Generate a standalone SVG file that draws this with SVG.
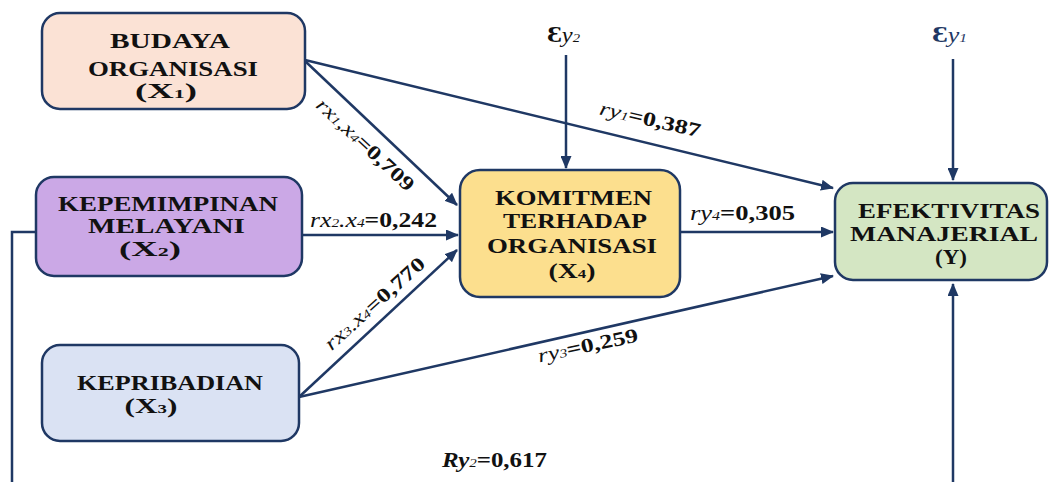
<svg xmlns="http://www.w3.org/2000/svg" width="1049" height="482" viewBox="0 0 1049 482">
<style>
.box{stroke:#1F3864;stroke-width:2.5}
.bt{font-family:"Liberation Serif","Times New Roman",serif;font-weight:bold;font-size:20px;fill:#111;text-anchor:middle}
.sub{font-size:12px}
.ln{stroke:#1F3864;stroke-width:2.5;fill:none}
.lbl{font-family:"Liberation Serif","Times New Roman",serif;font-size:20px;fill:#111;text-anchor:middle}
.it{font-style:italic;font-weight:normal}
.b{font-weight:bold}
.sm{font-size:12px}
</style>
<defs>
<marker id="ah" markerUnits="userSpaceOnUse" markerWidth="13" markerHeight="11" refX="12" refY="5.5" orient="auto">
<path d="M0,0 L13,5.5 L0,11 z" fill="#1F3864"/>
</marker>
</defs>
<rect width="1049" height="482" fill="#fff"/>
<g id="connectors">
<line class="ln" x1="305" y1="61" x2="457" y2="205" marker-end="url(#ah)"/>
<line class="ln" x1="305" y1="60" x2="833" y2="188" marker-end="url(#ah)"/>
<line class="ln" x1="302" y1="235" x2="458" y2="235" marker-end="url(#ah)"/>
<line class="ln" x1="299" y1="397" x2="457" y2="250" marker-end="url(#ah)"/>
<line class="ln" x1="299" y1="397" x2="833" y2="276" marker-end="url(#ah)"/>
<line class="ln" x1="680" y1="232" x2="833" y2="232" marker-end="url(#ah)"/>
<line class="ln" x1="566" y1="55" x2="566" y2="168" marker-end="url(#ah)"/>
<line class="ln" x1="953" y1="59" x2="953" y2="180" marker-end="url(#ah)"/>
<line class="ln" x1="953" y1="482" x2="953" y2="284" marker-end="url(#ah)"/>
<polyline class="ln" points="36,232 12,232 12,482"/>
</g>
<g id="labels">
<text class="lbl" transform="translate(365,145) rotate(43)" y="6" textLength="126" lengthAdjust="spacingAndGlyphs"><tspan class="it">rx</tspan><tspan class="it sm">1</tspan><tspan class="it">,x</tspan><tspan class="it sm">4</tspan><tspan class="b">=0,709</tspan></text>
<text class="lbl" x="373.5" y="227" textLength="127" lengthAdjust="spacingAndGlyphs"><tspan class="it">rx</tspan><tspan class="it sm">2</tspan><tspan class="it">.x</tspan><tspan class="it sm">4</tspan><tspan class="b">=0,242</tspan></text>
<text class="lbl" transform="translate(375,304) rotate(-42)" y="6" textLength="128" lengthAdjust="spacingAndGlyphs"><tspan class="it">rx</tspan><tspan class="it sm">3</tspan><tspan class="it">.x</tspan><tspan class="it sm">4</tspan><tspan class="b">=0,770</tspan></text>
<text class="lbl" transform="translate(650,120) rotate(13)" y="6" textLength="103" lengthAdjust="spacingAndGlyphs"><tspan class="it">ry</tspan><tspan class="it sm">1</tspan><tspan class="b">=0,387</tspan></text>
<text class="lbl" x="742.5" y="220" textLength="105" lengthAdjust="spacingAndGlyphs"><tspan class="it">ry</tspan><tspan class="it sm">4</tspan><tspan class="b">=0,305</tspan></text>
<text class="lbl" transform="translate(588,346) rotate(-12)" y="6" textLength="102" lengthAdjust="spacingAndGlyphs"><tspan class="it">ry</tspan><tspan class="it sm">3</tspan><tspan class="b">=0,259</tspan></text>
<text class="lbl" x="494.5" y="467" textLength="105" lengthAdjust="spacingAndGlyphs"><tspan class="it b">Ry</tspan><tspan class="it sm">2</tspan><tspan class="b">=0,617</tspan></text>
<text class="lbl" x="563.5" y="42" textLength="33" lengthAdjust="spacingAndGlyphs" fill="#222"><tspan class="b" font-size="23">Ɛ</tspan><tspan class="it">y</tspan><tspan class="it sm">2</tspan></text>
<text class="lbl" x="949.5" y="42" textLength="35" lengthAdjust="spacingAndGlyphs" style="fill:#1F3864"><tspan class="b" font-size="23">Ɛ</tspan><tspan class="it">y</tspan><tspan class="it sm">1</tspan></text>
</g>
<g id="node-x1">
<rect class="box" x="42" y="13" width="263" height="96" rx="18" fill="#FBE2D5"/>
<text class="bt" x="170" y="48" textLength="120" lengthAdjust="spacingAndGlyphs">BUDAYA</text>
<text class="bt" x="173" y="76" textLength="170" lengthAdjust="spacingAndGlyphs">ORGANISASI</text>
<text class="bt" x="166" y="98" textLength="62" lengthAdjust="spacingAndGlyphs">(X<tspan class="sub">1</tspan>)</text>
</g>
<g id="node-x2">
<rect class="box" x="36" y="177" width="266" height="99" rx="18" fill="#CBA8E6"/>
<text class="bt" x="168" y="211" textLength="220" lengthAdjust="spacingAndGlyphs">KEPEMIMPINAN</text>
<text class="bt" x="166.5" y="233" textLength="157" lengthAdjust="spacingAndGlyphs">MELAYANI</text>
<text class="bt" x="150" y="256" textLength="62" lengthAdjust="spacingAndGlyphs">(X<tspan class="sub">2</tspan>)</text>
</g>
<g id="node-x3">
<rect class="box" x="42" y="345" width="257" height="96" rx="18" fill="#DAE2F3"/>
<text class="bt" x="170" y="390" textLength="186" lengthAdjust="spacingAndGlyphs">KEPRIBADIAN</text>
<text class="bt" x="151" y="413" textLength="53" lengthAdjust="spacingAndGlyphs">(X<tspan class="sub">3</tspan>)</text>
</g>
<g id="node-x4">
<rect class="box" x="460" y="170" width="220" height="127" rx="20" fill="#FCDF8E"/>
<text class="bt" x="573.5" y="205" textLength="157" lengthAdjust="spacingAndGlyphs">KOMITMEN</text>
<text class="bt" x="575" y="228" textLength="144" lengthAdjust="spacingAndGlyphs">TERHADAP</text>
<text class="bt" x="572" y="253" textLength="170" lengthAdjust="spacingAndGlyphs">ORGANISASI</text>
<text class="bt" x="572" y="278" textLength="47" lengthAdjust="spacingAndGlyphs">(X<tspan class="sub">4</tspan>)</text>
</g>
<g id="node-y">
<rect class="box" x="835" y="183" width="212" height="97" rx="18" fill="#D4E6C3"/>
<text class="bt" x="949" y="218" textLength="182" lengthAdjust="spacingAndGlyphs">EFEKTIVITAS</text>
<text class="bt" x="944" y="241" textLength="188" lengthAdjust="spacingAndGlyphs">MANAJERIAL</text>
<text class="bt" x="951" y="264" textLength="32" lengthAdjust="spacingAndGlyphs">(Y)</text>
</g>
</svg>
